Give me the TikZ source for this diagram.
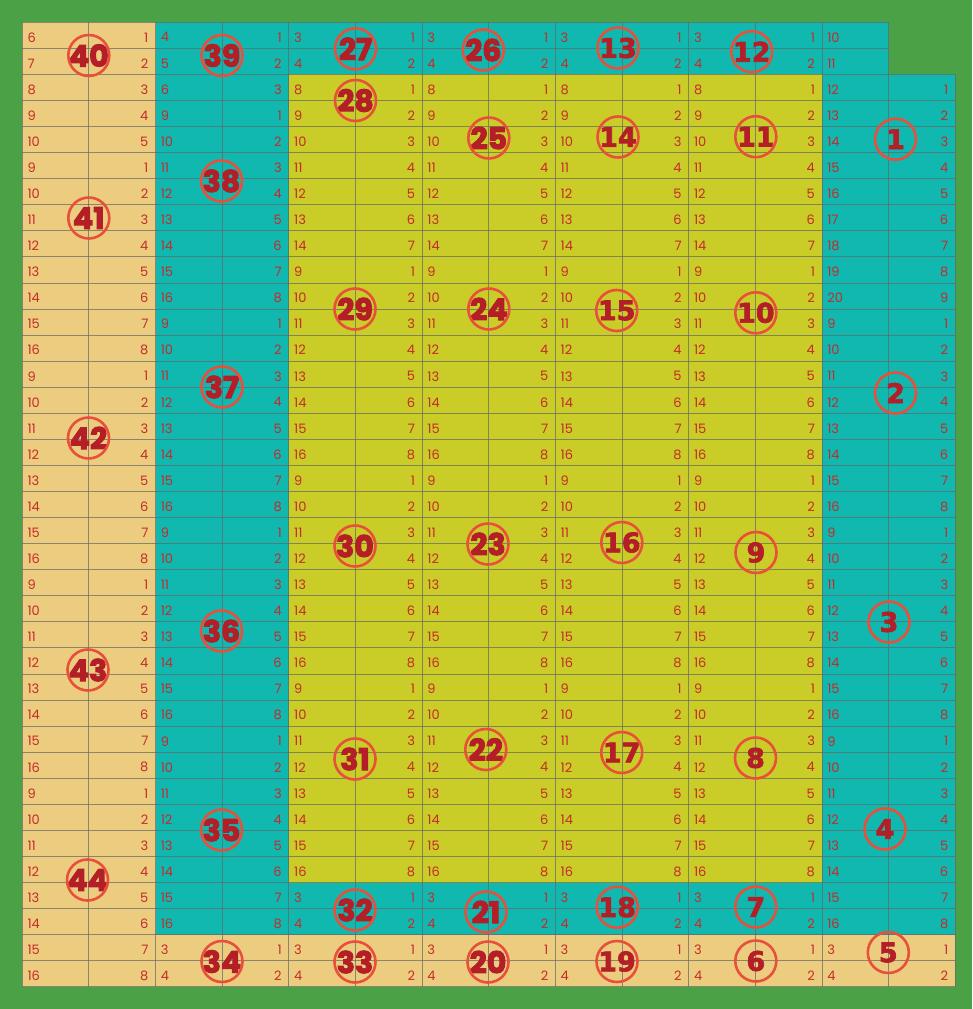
\documentclass[tikz,border=0pt]{standalone}
\usepackage{fontspec}
\setmainfont{Poppins}
\newfontfamily\plotfont{Poppins}[FakeBold=3.5]
\newfontfamily\ringfont{DejaVu Sans}[FakeBold=2.5]
\definecolor{bggreen}{HTML}{4AA146}
\definecolor{plottan}{HTML}{ECCD80}
\definecolor{plotteal}{HTML}{10B8B0}
\definecolor{plotlime}{HTML}{CACC28}
\definecolor{lotred}{HTML}{C62A2A}
\definecolor{plotred}{HTML}{B41E26}
\definecolor{ringred}{HTML}{E8503C}
\tikzset{
  gridln/.style={draw=black!60, opacity=0.7, line width=1pt},
  lotno/.style={font=\fontsize{13}{13}\selectfont, text=lotred, inner sep=0pt},
  plotno/.style={inner sep=0pt, text=plotred, font=\plotfont\fontsize{30}{30}\selectfont\bfseries},
  plotnoa/.style={inner sep=0pt, text=plotred, font=\ringfont\fontsize{27}{27}\selectfont\bfseries},
  ring/.style={draw=ringred, line width=2.6pt}
}
% lot numbers of one block: column, first row, first left no., first right no. (0 = none), rows
\newcommand{\lotblock}[5]{%
  \foreach \k in {1,...,#5}{
    \pgfmathtruncatemacro\rw{#2+\k-1}
    \pgfmathtruncatemacro\lt{#3+\k-1}
    \pgfmathsetmacro\yy{22.3+26.07*(\rw+0.5)+2}
    \node[lotno, anchor=west] (l-#1-\rw) at ({22.3+133.3*#1+5},\yy) {\lt};
    \ifnum#4>0
      \pgfmathtruncatemacro\rt{#4+\k-1}
      \node[lotno, anchor=east] (r-#1-\rw) at ({22.3+133.3*(#1+1)-7},\yy) {\rt};
    \fi
  }%
}
\begin{document}
\begin{tikzpicture}[x=1pt, y=-1pt]
    % background
    \fill[bggreen] (0,0) rectangle (972,1009);
    % column 1
    \fill[plottan] (22.3,22.3) rectangle (155.6,986.9);
    % column 2
    \fill[plotteal] (155.6,22.3) rectangle (288.9,934.75);
    \fill[plottan] (155.6,934.75) rectangle (288.9,986.9);
    % columns 3 to 6
    \fill[plotteal] (288.9,22.3) rectangle (821.7,74.44);
    \fill[plotlime] (288.9,74.44) rectangle (821.7,882.6);
    \fill[plotteal] (288.9,882.6) rectangle (821.7,934.75);
    \fill[plottan] (288.9,934.75) rectangle (955.3,986.9);
    % column 7
    \fill[plotteal] (821.7,22.3) rectangle (888.5,74.44);
    \fill[plotteal] (821.7,74.44) rectangle (955.3,934.75);

    % grid
    \foreach \i in {0,...,13}
        \draw[gridln] ({22.3+66.65*\i},22.3) -- ({22.3+66.65*\i},986.9);
    \draw[gridln] (955.3,74.44) -- (955.3,986.9);
    \foreach \rr in {0,1}
        \draw[gridln] (22.3,{22.3+26.07*\rr}) -- (888.5,{22.3+26.07*\rr});
    \foreach \rr in {2,...,37}
        \draw[gridln] (22.3,{22.3+26.07*\rr}) -- (955.3,{22.3+26.07*\rr});

    % lot numbers
    \foreach \st/\lo/\nn in {0/6/5, 5/9/8, 13/9/8, 21/9/8, 29/9/8}
        {\lotblock{0}{\st}{\lo}{1}{\nn}}
    \foreach \st/\lo/\nn in {0/4/3, 3/9/8, 11/9/8, 19/9/8, 27/9/8, 35/3/2}
        {\lotblock{1}{\st}{\lo}{1}{\nn}}
    \foreach \cl in {2,...,5}
        \foreach \st/\lo/\nn in {0/3/2, 2/8/7, 9/9/8, 17/9/8, 25/9/8, 33/3/2, 35/3/2}
            {\lotblock{\cl}{\st}{\lo}{1}{\nn}}
    \lotblock{6}{0}{10}{0}{2}
    \foreach \st/\lo/\nn in {2/12/9, 11/9/8, 19/9/8, 27/9/8, 35/3/2}
        {\lotblock{6}{\st}{\lo}{1}{\nn}}

    % plot numbers
    \foreach \n/\x/\y in {40/88.8/55.5, 41/88.8/218, 42/88.5/438, 43/88/670, 44/87.5/880,
        39/222/55.5, 38/221.5/181, 37/222/387, 36/221.5/631, 35/221.5/830, 34/222/961.5,
        27/355.5/48.8, 28/355.5/100.5, 29/355/309, 30/355/546, 31/355/759, 32/355/910, 33/355/962,
        26/483.3/50, 25/488.8/138, 24/488.8/309, 23/488/544, 22/485.8/749.5, 21/486/912, 20/488/962}{
        \node[plotno] (p\n) at (\x,\y) {\n};
        \draw[ring] (p\n.center) circle (20.5);
    }
    \foreach \n/\x/\y in {13/618/48, 14/618/137, 15/616.7/310.5, 16/621.8/542.5, 17/621.7/752.5, 18/617.2/907.2, 19/617/961.5,
        12/751.7/51.7, 11/755.8/136.7, 10/755.8/312.8, 9/756/552.5, 8/755.5/758, 7/755.8/907, 6/755.8/961,
        1/895.5/139.2, 2/895.5/393, 3/889/622, 4/885/829, 5/888.3/952.5}{
        \node[plotnoa] (p\n) at (\x,\y) {\n};
        \draw[ring] (p\n.center) circle (20.5);
    }
\end{tikzpicture}
\end{document}
